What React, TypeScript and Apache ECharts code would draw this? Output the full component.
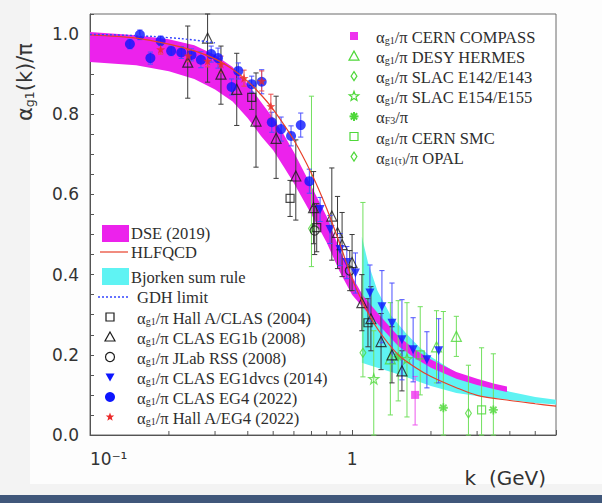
import React, { useEffect, useRef } from 'react';
import * as echarts from 'echarts';

// ---------- axes ----------
const K_MIN = 0.1;
const K_MAX = 6;
const A_MIN = 0;
const A_MAX = 1.05;
const kMinorTicks = [0.2, 0.3, 0.4, 0.5, 0.6, 0.7, 0.8, 0.9, 2, 3, 4, 5];

// ---------- theory: DSE (2019) band ----------
const dseK = [0.1, 0.15, 0.2, 0.25, 0.3, 0.35, 0.4, 0.45, 0.5, 0.55, 0.6, 0.7, 0.8, 0.9, 1.0, 1.1, 1.25, 1.5, 1.75, 2.0, 2.5, 3.0, 3.5, 3.9];
const dseLow = [0.93, 0.922, 0.907, 0.888, 0.862, 0.832, 0.79, 0.745, 0.71, 0.668, 0.628, 0.55, 0.48, 0.405, 0.35, 0.318, 0.278, 0.222, 0.19, 0.168, 0.14, 0.125, 0.114, 0.107];
const dseHigh = [1.005, 0.997, 0.987, 0.972, 0.948, 0.918, 0.875, 0.83, 0.79, 0.748, 0.705, 0.62, 0.545, 0.46, 0.395, 0.348, 0.305, 0.246, 0.212, 0.188, 0.157, 0.14, 0.128, 0.121];

// ---------- theory: Bjorken sum rule band ----------
const bjK = [1.09, 1.15, 1.25, 1.4, 1.6, 1.8, 2.0, 2.5, 3.0, 4.0, 5.0, 6.0];
const bjLow = [0.18, 0.175, 0.168, 0.158, 0.145, 0.133, 0.122, 0.105, 0.097, 0.087, 0.08, 0.076];
const bjHigh = [0.495, 0.43, 0.36, 0.3, 0.255, 0.22, 0.195, 0.155, 0.133, 0.108, 0.095, 0.088];

// ---------- theory: HLFQCD curve ----------
const hlK = [0.1, 0.15, 0.2, 0.25, 0.3, 0.35, 0.4, 0.45, 0.5, 0.6, 0.7, 0.8, 0.9, 1.0, 1.1, 1.25, 1.5, 1.75, 2.0, 2.5, 3.0, 4.0, 5.0, 6.0];
const hlV = [0.998, 0.99, 0.975, 0.958, 0.938, 0.912, 0.882, 0.848, 0.812, 0.735, 0.652, 0.565, 0.475, 0.39, 0.33, 0.265, 0.2, 0.168, 0.146, 0.118, 0.099, 0.086, 0.078, 0.072];

// ---------- GDH limit ----------
const gdhK = [0.1, 0.15, 0.2, 0.25, 0.3];
const gdhV = [0.999, 0.996, 0.991, 0.985, 0.978];

// ---------- measurements: [k, value, error below, error above] ----------
type Pt = [number, number, number, number];

const hallAClas2004: Pt[] = [
  [0.414, 0.842, 0.03, 0.03],
  [0.58, 0.59, 0.045, 0.045],
  [0.733, 0.517, 0.06, 0.06],
  [1.15, 0.28, 0.06, 0.06],
];
const clasEg1b2008: Pt[] = [
  [0.236, 0.93, 0.09, 0.09],
  [0.281, 0.99, 0.11, 0.06],
  [0.316, 0.9, 0.075, 0.07],
  [0.363, 0.862, 0.09, 0.09],
  [0.43, 0.783, 0.115, 0.12],
  [0.513, 0.74, 0.1, 0.105],
  [0.61, 0.646, 0.11, 0.09],
  [0.713, 0.567, 0.09, 0.09],
  [0.837, 0.546, 0.11, 0.12],
  [0.88, 0.505, 0.09, 0.09],
  [0.916, 0.475, 0.08, 0.08],
  [1.0, 0.43, 0.07, 0.07],
  [1.09, 0.33, 0.07, 0.07],
  [1.18, 0.29, 0.08, 0.08],
  [1.29, 0.233, 0.07, 0.07],
  [1.42, 0.2, 0.07, 0.07],
  [1.55, 0.16, 0.05, 0.05],
];
const jlabRss2008: Pt[] = [
  [0.72, 0.51, 0.06, 0.06],
  [0.98, 0.41, 0.05, 0.05],
];
const clasEg1dvcs2014: Pt[] = [
  [0.755, 0.5625, 0.03, 0.03],
  [0.824, 0.5125, 0.035, 0.035],
  [0.9, 0.4625, 0.04, 0.04],
  [0.955, 0.43, 0.04, 0.04],
  [1.03, 0.404, 0.05, 0.05],
  [1.17, 0.354, 0.07, 0.07],
  [1.3, 0.32, 0.09, 0.09],
  [1.42, 0.279, 0.1, 0.1],
  [1.55, 0.2375, 0.1, 0.1],
  [1.71, 0.2125, 0.08, 0.08],
  [1.93, 0.1875, 0.07, 0.07],
  [2.14, 0.21, 0.08, 0.08],
];
const clasEg42022: Pt[] = [
  [0.142, 0.975, 0.012, 0.012],
  [0.155, 0.998, 0.012, 0.012],
  [0.17, 0.94, 0.015, 0.015],
  [0.186, 0.983, 0.012, 0.012],
  [0.204, 0.958, 0.012, 0.012],
  [0.223, 0.954, 0.015, 0.015],
  [0.244, 0.948, 0.015, 0.015],
  [0.265, 0.936, 0.02, 0.02],
  [0.29, 0.95, 0.02, 0.02],
  [0.308, 0.94, 0.025, 0.025],
  [0.347, 0.868, 0.02, 0.02],
  [0.368, 0.908, 0.02, 0.02],
  [0.414, 0.875, 0.02, 0.02],
  [0.452, 0.881, 0.03, 0.03],
  [0.494, 0.78, 0.025, 0.025],
  [0.536, 0.763, 0.03, 0.03],
  [0.585, 0.746, 0.025, 0.025],
  [0.637, 0.773, 0.03, 0.03],
  [0.687, 0.633, 0.03, 0.03],
];
const hallAEg42022: Pt[] = [
  [0.186, 0.962, 0.012, 0.012],
  [0.237, 0.946, 0.015, 0.015],
  [0.281, 0.933, 0.015, 0.015],
  [0.316, 0.925, 0.02, 0.02],
  [0.387, 0.89, 0.02, 0.02],
  [0.452, 0.883, 0.025, 0.025],
  [0.49, 0.82, 0.03, 0.03],
];
const cernCompass: Pt[] = [[1.74, 0.1, 0.075, 0.046]];
const desyHermes: Pt[] = [
  [1.4, 0.19, 0.14, 0.14],
  [2.1, 0.22, 0.09, 0.09],
  [2.5, 0.246, 0.05, 0.05],
];
const slacE142E143: Pt[] = [
  [0.7, 0.515, 0.095, 0.33],
  [1.1, 0.205, 0.06, 0.375],
];
const slacE154E155: Pt[] = [
  [1.21, 0.14, 0.14, 0.12],
  [1.62, 0.19, 0.145, 0.14],
];
const glsF3: Pt[] = [
  [1.5, 0.195, 0.11, 0.14],
  [2.23, 0.068, 0.068, 0.24],
  [3.46, 0.0625, 0.0625, 0.14],
];
const cernSmc: Pt[] = [
  [1.82, 0.2, 0.1, 0.12],
  [3.12, 0.0625, 0.0625, 0.155],
];
const opalTau: Pt[] = [[2.78, 0.054, 0.054, 0.12]];

// ---------- legend captions ----------
const bandLegend = ['DSE (2019)', 'HLFQCD', 'Bjorken sum rule', 'GDH limit'];

type Kind = 'square' | 'triangle' | 'circle' | 'downTriangle' | 'star' | 'diamond' | 'asterisk';
interface DataSet { name: string; sub: string; caption: string; pts: Pt[]; kind: Kind; filled: boolean; size: number; color: string; bar: string }

const BLACK = '#1c1c1c';
const BLACK_BAR = '#3a3a3a';
const BLUE = '#0d16ff';
const BLUE_BAR = '#4b50ff';
const GREEN = '#4fd83a';
const GREEN_BAR = '#72e05e';

const leftSets: DataSet[] = [
  { name: 'Hall A/CLAS (2004)', sub: 'g1', caption: 'Hall A/CLAS (2004)', pts: hallAClas2004, kind: 'square', filled: false, size: 9, color: BLACK, bar: BLACK_BAR },
  { name: 'CLAS EG1b (2008)', sub: 'g1', caption: 'CLAS EG1b (2008)', pts: clasEg1b2008, kind: 'triangle', filled: false, size: 10, color: BLACK, bar: BLACK_BAR },
  { name: 'JLab RSS (2008)', sub: 'g1', caption: 'JLab RSS (2008)', pts: jlabRss2008, kind: 'circle', filled: false, size: 9, color: BLACK, bar: BLACK_BAR },
  { name: 'CLAS EG1dvcs (2014)', sub: 'g1', caption: 'CLAS EG1dvcs (2014)', pts: clasEg1dvcs2014, kind: 'downTriangle', filled: true, size: 9, color: BLUE, bar: BLUE_BAR },
  { name: 'CLAS EG4 (2022)', sub: 'g1', caption: 'CLAS EG4 (2022)', pts: clasEg42022, kind: 'circle', filled: true, size: 10, color: BLUE, bar: BLUE_BAR },
  { name: 'Hall A/EG4 (2022)', sub: 'g1', caption: 'Hall A/EG4 (2022)', pts: hallAEg42022, kind: 'star', filled: true, size: 9, color: '#ec2b2b', bar: '#ef4a4a' },
];

const rightSets: DataSet[] = [
  { name: 'CERN COMPASS', sub: 'g1', caption: 'CERN COMPASS', pts: cernCompass, kind: 'square', filled: true, size: 9, color: '#ee33ee', bar: '#ee55ee' },
  { name: 'DESY HERMES', sub: 'g1', caption: 'DESY HERMES', pts: desyHermes, kind: 'triangle', filled: false, size: 10, color: GREEN, bar: GREEN_BAR },
  { name: 'SLAC E142/E143', sub: 'g1', caption: 'SLAC E142/E143', pts: slacE142E143, kind: 'diamond', filled: false, size: 9, color: GREEN, bar: GREEN_BAR },
  { name: 'SLAC E154/E155', sub: 'g1', caption: 'SLAC E154/E155', pts: slacE154E155, kind: 'star', filled: false, size: 10, color: GREEN, bar: GREEN_BAR },
  { name: 'F3', sub: 'F3', caption: '', pts: glsF3, kind: 'asterisk', filled: true, size: 9, color: GREEN, bar: GREEN_BAR },
  { name: 'CERN SMC', sub: 'g1', caption: 'CERN SMC', pts: cernSmc, kind: 'square', filled: false, size: 9, color: GREEN, bar: GREEN_BAR },
  { name: 'OPAL', sub: 'g1(τ)', caption: 'OPAL', pts: opalTau, kind: 'diamond', filled: false, size: 9, color: GREEN, bar: GREEN_BAR },
];

// ---------- symbol helpers ----------
const STAR_PATH = 'path://M0,-10L2.35,-3.24L9.51,-3.09L3.8,1.24L5.88,8.09L0,4L-5.88,8.09L-3.8,1.24L-9.51,-3.09L-2.35,-3.24Z';
const ASTERISK_PATH =
  'path://M-1,-5L1,-5L1,5L-1,5Z M-5,-1L5,-1L5,1L-5,1Z M2.83,4.24L-4.24,-2.83L-2.83,-4.24L4.24,2.83Z M-2.83,4.24L-4.24,2.83L2.83,-4.24L4.24,-2.83Z';

function scatterSymbol(d: DataSet) {
  switch (d.kind) {
    case 'square': return { symbol: 'rect', symbolSize: d.size - 1, symbolRotate: 0 };
    case 'triangle': return { symbol: 'triangle', symbolSize: d.size, symbolRotate: 0 };
    case 'downTriangle': return { symbol: 'triangle', symbolSize: d.size, symbolRotate: 180 };
    case 'circle': return { symbol: 'circle', symbolSize: d.size, symbolRotate: 0 };
    case 'star': return { symbol: STAR_PATH, symbolSize: d.size, symbolRotate: 0 };
    case 'diamond': return { symbol: 'diamond', symbolSize: [d.size * 0.65, d.size], symbolRotate: 0 };
    case 'asterisk': return { symbol: ASTERISK_PATH, symbolSize: d.size, symbolRotate: 0 };
  }
}

function legendSymbol(d: DataSet, cx: number, cy: number): any {
  const s = d.size;
  const h = s / 2;
  const style = d.filled
    ? { fill: d.color, stroke: 'none' }
    : { fill: 'none', stroke: d.color, lineWidth: 1.2 };
  const z = 100;
  switch (d.kind) {
    case 'square':
      return { type: 'rect', z, shape: { x: cx - h + 0.5, y: cy - h + 0.5, width: s - 1, height: s - 1 }, style };
    case 'circle':
      return { type: 'circle', z, shape: { cx, cy, r: h }, style };
    case 'triangle':
      return { type: 'polygon', z, shape: { points: [[cx, cy - h], [cx + h, cy + h * 0.8], [cx - h, cy + h * 0.8]] }, style };
    case 'downTriangle':
      return { type: 'polygon', z, shape: { points: [[cx - h, cy - h * 0.8], [cx + h, cy - h * 0.8], [cx, cy + h]] }, style };
    case 'diamond':
      return { type: 'polygon', z, shape: { points: [[cx, cy - h], [cx + h * 0.65, cy], [cx, cy + h], [cx - h * 0.65, cy]] }, style };
    case 'star': {
      const pts: number[][] = [];
      for (let i = 0; i < 10; i++) {
        const a = -Math.PI / 2 + (i * Math.PI) / 5;
        const r = i % 2 ? h * 0.42 : h;
        pts.push([cx + r * Math.cos(a), cy + r * Math.sin(a)]);
      }
      return { type: 'polygon', z, shape: { points: pts }, style };
    }
    case 'asterisk': {
      const kids = [0, 45, 90, 135].map((deg) => {
        const a = (deg * Math.PI) / 180;
        return {
          type: 'line',
          shape: { x1: cx - h * Math.cos(a), y1: cy - h * Math.sin(a), x2: cx + h * Math.cos(a), y2: cy + h * Math.sin(a) },
          style: { stroke: d.color, lineWidth: 2 },
        };
      });
      return { type: 'group', z, children: kids };
    }
  }
}

// ---------- series builders ----------
function bandSeries(name: string, ks: number[], lo: number[], hi: number[], fill: string) {
  return {
    name,
    type: 'custom',
    coordinateSystem: 'cartesian2d',
    silent: true,
    data: ks.map((k, i) => [k, lo[i], hi[i]]),
    encode: { x: 0, y: [1, 2] },
    renderItem: (params: any, api: any) => {
      if (params.dataIndex !== 0) return null;
      const upper = ks.map((k, i) => api.coord([k, hi[i]]));
      const lower = ks.map((k, i) => api.coord([k, lo[i]])).reverse();
      return { type: 'polygon', shape: { points: upper.concat(lower) }, style: { fill, stroke: 'none' } };
    },
  };
}

function errorBarSeries(d: DataSet) {
  return {
    name: d.name,
    type: 'custom',
    coordinateSystem: 'cartesian2d',
    silent: true,
    data: d.pts.map(([k, v, dn, up]) => [k, v, v - dn, v + up]),
    encode: { x: 0, y: [1, 2, 3] },
    renderItem: (_params: any, api: any) => {
      const k = api.value(0);
      const lo = api.value(2);
      const hi = api.value(3);
      const top = api.coord([k, Math.min(hi, A_MAX)]);
      const bot = api.coord([k, Math.max(lo, A_MIN)]);
      const style = { stroke: d.bar, lineWidth: 1 };
      const cap = 2.6;
      const kids: any[] = [{ type: 'line', shape: { x1: top[0], y1: top[1], x2: bot[0], y2: bot[1] }, style }];
      if (hi <= A_MAX) kids.push({ type: 'line', shape: { x1: top[0] - cap, y1: top[1], x2: top[0] + cap, y2: top[1] }, style });
      if (lo >= A_MIN) kids.push({ type: 'line', shape: { x1: bot[0] - cap, y1: bot[1], x2: bot[0] + cap, y2: bot[1] }, style });
      return { type: 'group', children: kids };
    },
  };
}

function markerSeries(d: DataSet) {
  const sym = scatterSymbol(d);
  return {
    name: d.name,
    type: 'scatter',
    silent: true,
    ...sym,
    data: d.pts.map(([k, v]) => [k, v]),
    itemStyle: d.filled
      ? { color: d.color, borderWidth: 0 }
      : { color: 'rgba(255,255,255,0)', borderColor: d.color, borderWidth: 1.2 },
  };
}

function minorTickSeries() {
  return {
    name: 'k minor ticks',
    type: 'custom',
    coordinateSystem: 'cartesian2d',
    silent: true,
    data: kMinorTicks.map((k) => [k, A_MIN]),
    encode: { x: 0, y: 1 },
    renderItem: (_p: any, api: any) => {
      const p = api.coord([api.value(0), A_MIN]);
      return { type: 'line', shape: { x1: p[0], y1: p[1], x2: p[0], y2: p[1] - 4 }, style: { stroke: '#555', lineWidth: 1 } };
    },
  };
}

// ---------- legend graphics ----------
const SERIF = 'Liberation Serif';
const SANS = 'DejaVu Sans';
const TEXT_COLOR = '#2e2e2e';
const LEGEND_FONT = 16.5;

const legendRich = {
  m: { fontFamily: SERIF, fontSize: LEGEND_FONT, lineHeight: 16, verticalAlign: 'top' },
  s: { fontFamily: SERIF, fontSize: 10, lineHeight: 10, padding: [8, 0, 0, 0], verticalAlign: 'bottom' },
};

function alphaLabel(x: number, y: number, sub: string, caption: string) {
  return {
    type: 'text',
    z: 100,
    x,
    y: y + 1,
    style: {
      text: `{m|α}{s|${sub}}{m|/π${caption ? ' ' + caption : ''}}`,
      rich: legendRich,
      align: 'left',
      verticalAlign: 'middle',
      fill: TEXT_COLOR,
    },
  };
}

function plainLabel(x: number, y: number, text: string) {
  return {
    type: 'text',
    z: 100,
    x,
    y,
    style: { text, fontFamily: SERIF, fontSize: LEGEND_FONT, align: 'left', verticalAlign: 'middle', fill: TEXT_COLOR },
  };
}

function buildGraphics() {
  const g: any[] = [];
  // band / curve legend
  g.push({ type: 'rect', z: 100, shape: { x: 102, y: 225, width: 27, height: 17 }, style: { fill: '#ec22ec' } });
  g.push(plainLabel(131, 233, bandLegend[0]));
  g.push({ type: 'line', z: 100, shape: { x1: 100, y1: 252, x2: 128, y2: 252 }, style: { stroke: '#e8402a', lineWidth: 1.2 } });
  g.push(plainLabel(131, 252, bandLegend[1]));
  g.push({ type: 'rect', z: 100, shape: { x: 102, y: 268, width: 27, height: 17 }, style: { fill: '#5ff3f3' } });
  g.push(plainLabel(131, 277, bandLegend[2]));
  g.push({ type: 'line', z: 100, shape: { x1: 98, y1: 297, x2: 128, y2: 297 }, style: { stroke: '#3344ff', lineWidth: 1.3, lineDash: [2, 2] } });
  g.push(plainLabel(137, 297, bandLegend[3]));
  // lower-left measurement legend
  leftSets.forEach((d, i) => {
    const y = 317 + i * 20;
    g.push(legendSymbol(d, 110, y));
    g.push(alphaLabel(137, y, d.sub, d.caption));
  });
  // upper-right measurement legend
  rightSets.forEach((d, i) => {
    const y = 36 + i * 20.1;
    g.push(legendSymbol(d, 354, y));
    g.push(alphaLabel(376, y, d.sub, d.caption));
  });
  // axis titles
  g.push({
    type: 'text',
    z: 100,
    x: 25,
    y: 82,
    rotation: Math.PI / 2,
    style: {
      text: '{m|α}{s|g1}{m|(k)/π}',
      rich: {
        m: { fontFamily: SANS, fontSize: 21, lineHeight: 21, verticalAlign: 'top' },
        s: { fontFamily: SANS, fontSize: 12.5, lineHeight: 12, padding: [10, 0, 0, 0], verticalAlign: 'bottom' },
      },
      align: 'center',
      verticalAlign: 'middle',
      fill: '#333',
    },
  });
  g.push({
    type: 'text',
    z: 100,
    x: 546,
    y: 478,
    style: { text: 'k  (GeV)', fontFamily: SANS, fontSize: 20, align: 'right', verticalAlign: 'middle', fill: '#333' },
  });
  return g;
}

function buildOption(): any {
  const drawOrder = [...rightSets, ...leftSets];
  return {
    animation: false,
    backgroundColor: 'transparent',
    grid: { left: 90, right: 46, top: 14, bottom: 68, show: true, backgroundColor: '#ffffff', borderColor: '#6a6a6a', borderWidth: 1 },
    xAxis: {
      type: 'log',
      logBase: 10,
      min: K_MIN,
      max: K_MAX,
      axisLine: { show: true, onZero: false, lineStyle: { color: '#555', width: 1 } },
      axisTick: { show: true, inside: true, length: 5, lineStyle: { color: '#555' } },
      splitLine: { show: false },
      axisLabel: {
        margin: 15,
        fontFamily: SANS,
        fontSize: 17,
        color: '#333',
        alignMinLabel: 'left',
        formatter: (v: number) => {
          const e = Math.log10(v);
          if (Math.abs(e + 1) < 1e-6) return '10⁻¹';
          if (Math.abs(e) < 1e-6) return '1';
          return '';
        },
      },
    },
    yAxis: {
      type: 'value',
      min: A_MIN,
      max: A_MAX,
      interval: 0.05,
      axisLine: { show: true, onZero: false, lineStyle: { color: '#555', width: 1 } },
      axisTick: { show: true, inside: true, length: 4, lineStyle: { color: '#555' } },
      splitLine: { show: false },
      axisLabel: {
        margin: 11,
        fontFamily: SANS,
        fontSize: 17,
        color: '#333',
        formatter: (v: number) => (Math.round(v * 100) % 20 === 0 && v <= 1.0001 ? v.toFixed(1) : ''),
      },
    },
    graphic: buildGraphics(),
    series: [
      bandSeries('Bjorken sum rule', bjK, bjLow, bjHigh, '#5ff3f3'),
      bandSeries('DSE (2019)', dseK, dseLow, dseHigh, '#ec22ec'),
      {
        name: 'HLFQCD',
        type: 'line',
        silent: true,
        smooth: 0.3,
        showSymbol: false,
        data: hlK.map((k, i) => [k, hlV[i]]),
        lineStyle: { color: '#e8402a', width: 1.2 },
      },
      {
        name: 'GDH limit',
        type: 'line',
        silent: true,
        smooth: true,
        showSymbol: false,
        data: gdhK.map((k, i) => [k, gdhV[i]]),
        lineStyle: { color: '#3344ff', width: 1.4, type: [2, 2] },
      },
      minorTickSeries(),
      ...drawOrder.map(errorBarSeries),
      ...drawOrder.map(markerSeries),
    ],
  };
}

export default function App() {
  const ref = useRef<HTMLDivElement>(null);
  useEffect(() => {
    if (!ref.current) return;
    const chart = echarts.init(ref.current, undefined, { renderer: 'svg' });
    chart.setOption(buildOption());
    return () => chart.dispose();
  }, []);
  return (
    <div style={{ position: 'fixed', left: 0, top: 0, width: 602, height: 503, background: '#f3f3f3', overflow: 'hidden' }}>
      <div style={{ position: 'absolute', left: 30, top: 0, width: 572, height: 484, background: '#fdfdfd' }} />
      <div style={{ position: 'absolute', left: 0, top: 495, width: 602, height: 8, background: '#40577a' }} />
      <div ref={ref} style={{ position: 'absolute', left: 0, top: 0, width: 602, height: 503 }} />
    </div>
  );
}
